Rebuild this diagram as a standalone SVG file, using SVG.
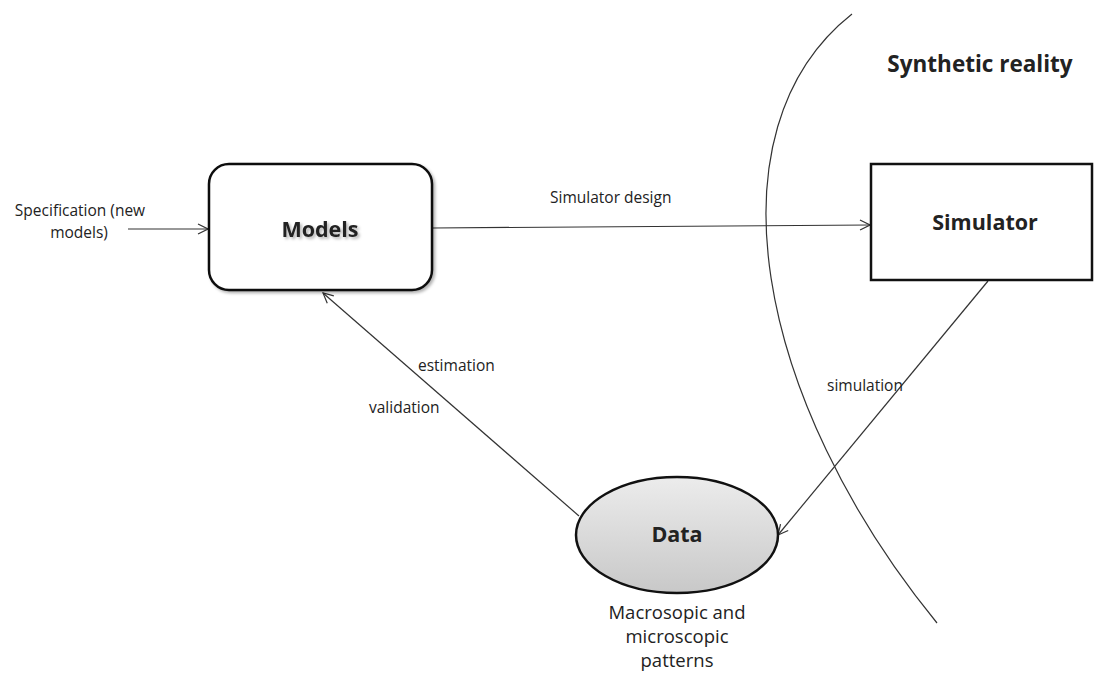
<svg xmlns="http://www.w3.org/2000/svg" width="1094" height="675" viewBox="0 0 1094 675">
<style>
text{font-family:"Open Sans","Liberation Sans",sans-serif;fill:#222}
.lbl{font-size:15.5px}
.big{font-size:21.5px;font-weight:bold;text-anchor:middle}
.cap{font-size:18.5px;text-anchor:middle}
.edge{stroke:#333;stroke-width:1.2;fill:none;marker-end:url(#arr)}
</style>
<defs>
<marker id="arr" viewBox="0 0 12 12" refX="11" refY="6" markerWidth="12" markerHeight="12" markerUnits="userSpaceOnUse" orient="auto">
<path d="M1,1 L11,6 L1,11" fill="none" stroke="#333" stroke-width="1.2"/>
</marker>
<linearGradient id="g" x1="0" y1="0" x2="0" y2="1">
<stop offset="0" stop-color="#ececec"/>
<stop offset="1" stop-color="#c8c8c8"/>
</linearGradient>
<filter id="sh" x="-20%" y="-20%" width="140%" height="140%">
<feDropShadow dx="2" dy="2" stdDeviation="1.5" flood-color="#000" flood-opacity="0.3"/>
</filter>
</defs>
<rect width="1094" height="675" fill="#fff"/>
<path id="boundary" d="M852,14 C705,130 755,400 937,623" fill="none" stroke="#333" stroke-width="1.2"/>
<text x="980" y="72" class="big" style="font-size:22.5px">Synthetic reality</text>
<g id="connectors">
<line class="edge" x1="128" y1="229" x2="208" y2="229"/>
<line class="edge" x1="433" y1="228" x2="870" y2="225"/>
<line class="edge" x1="579" y1="516" x2="323" y2="293"/>
<line class="edge" x1="988" y1="281" x2="778" y2="535"/>
<text x="550" y="203" class="lbl">Simulator design</text>
<text x="418" y="371" class="lbl">estimation</text>
<text x="369" y="413" class="lbl">validation</text>
<text x="827" y="391" class="lbl">simulation</text>
</g>
<g id="spec">
<text x="80" y="216" class="lbl" text-anchor="middle">Specification (new</text>
<text x="79" y="238" class="lbl" text-anchor="middle">models)</text>
</g>
<g id="models">
<rect x="209" y="164" width="223" height="126" rx="20" fill="#fff" stroke="#111" stroke-width="2.5" filter="url(#sh)"/>
<text x="320" y="237" class="big" filter="url(#sh)">Models</text>
</g>
<g id="simulator">
<rect x="871" y="164" width="221" height="116" fill="#fff" stroke="#111" stroke-width="2.5"/>
<text x="985" y="230" class="big">Simulator</text>
</g>
<g id="data">
<ellipse cx="677" cy="535" rx="101" ry="58" fill="url(#g)" stroke="#111" stroke-width="2.5"/>
<text x="677" y="542" class="big">Data</text>
<text x="677" y="619" class="cap">Macrosopic and</text>
<text x="677" y="643" class="cap">microscopic</text>
<text x="677" y="667" class="cap">patterns</text>
</g>
</svg>
